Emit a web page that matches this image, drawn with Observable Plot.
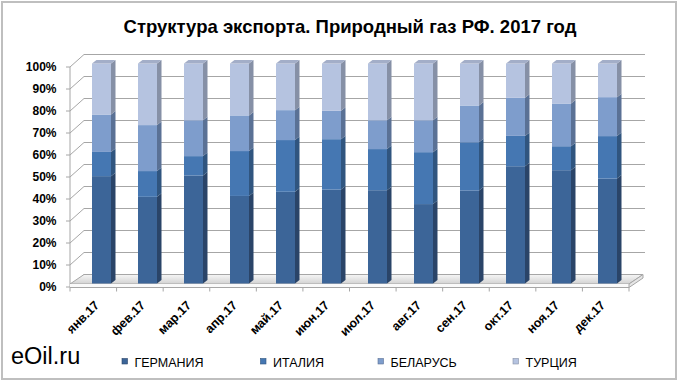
<!DOCTYPE html>
<html><head><meta charset="utf-8">
<script src="https://cdn.jsdelivr.net/npm/d3@7"></script>
<script src="https://cdn.jsdelivr.net/npm/@observablehq/plot@0.6"></script>
<style>
body{margin:0;background:#fff}
#wrap{position:relative;width:680px;height:384px;overflow:hidden;background:#fff}
#wrap svg{position:absolute;left:0;top:0}
</style>
</head><body><div id="wrap"></div>
<script>
const months = ["янв.17","фев.17","мар.17","апр.17","май.17","июн.17","июл.17","авг.17","сен.17","окт.17","ноя.17","дек.17"];
const series = ["ГЕРМАНИЯ","ИТАЛИЯ","БЕЛАРУСЬ","ТУРЦИЯ"];
const germany = [48.8, 39.4, 49.1, 39.8, 41.7, 42.7, 42.4, 36.1, 42.3, 53.3, 51.5, 47.7];
const italy   = [11.0, 11.7,  8.8, 20.4, 23.5, 22.9, 18.7, 23.6, 21.9, 13.8, 10.9, 19.3];
const belarus = [17.0, 20.9, 16.3, 16.2, 13.6, 12.9, 13.1, 14.5, 16.7, 17.3, 19.4, 17.7];
const turkey  = [23.2, 28.0, 25.8, 23.6, 21.2, 21.5, 25.8, 25.8, 19.1, 15.6, 18.2, 15.3];
const yTicks = [0,10,20,30,40,50,60,70,80,90,100];
const title = "Структура экспорта. Природный газ РФ. 2017 год";
const watermark = "eOil.ru";

const frontColors = ["#3C6598","#4577B2","#7E9DCC","#B5C3E0"];
const sideColors  = ["#2A4468","#30557F","#5A7195","#8690A6"];
const topColor = "#A3AEC8";

const seriesValues = [germany, italy, belarus, turkey];
const data = [];
months.forEach((m, i) => seriesValues.forEach((arr, s) => data.push({month: m, series: series[s], value: arr[i]})));

const FONT = "'Liberation Sans', Arial, sans-serif";
const FX = -5, FY = 3.5;   // front plane offset from bar plane
const BX = 9,  BY = -9;    // back plane offset from bar plane
const DX = 4.5, DY = -3.5; // bar depth

function walls(index, scales, values, dims) {
  const g = d3.create("svg:g");
  const y = scales.y;
  const x0 = dims.marginLeft, x1 = dims.width - dims.marginRight;
  const fl = x0 + FX, fr = x1 + FX, bl = x0 + BX, br = x1 + BX;
  const grid = "#A6A6A6";
  for (const t of yTicks) {
    const yf = y(t) + FY, yb = y(t) + BY;
    if (t > 0) g.append("line").attr("x1", bl).attr("x2", br + 2).attr("y1", yb).attr("y2", yb).attr("stroke", grid);
    g.append("line").attr("x1", fl).attr("y1", yf).attr("x2", bl).attr("y2", yb).attr("stroke", grid);
    g.append("line").attr("x1", fl - 4).attr("x2", fl).attr("y1", yf).attr("y2", yf).attr("stroke", grid);
  }
  g.append("line").attr("x1", fl).attr("x2", fl).attr("y1", y(100) + FY).attr("y2", y(0) + FY + 0.5).attr("stroke", grid);
  const defs = g.append("defs");
  const lg = defs.append("linearGradient").attr("id", "floorGrad").attr("x1", 0).attr("y1", 0).attr("x2", 0).attr("y2", 1);
  lg.append("stop").attr("offset", 0).attr("stop-color", "#F6F6F6");
  lg.append("stop").attr("offset", 1).attr("stop-color", "#D2D2D2");
  const yTopF = y(0) + 0.5, yBack = y(0) + BY, yAx = y(0) + FY + 0.5;
  g.append("polygon").attr("points", [[fl, yTopF], [fr, yTopF], [br, yBack], [bl, yBack]].join(" "))
    .attr("fill", "url(#floorGrad)").attr("stroke", grid);
  g.append("polygon").attr("points", [[fl, yTopF], [fr, yTopF], [fr, yAx], [fl, yAx]].join(" "))
    .attr("fill", "#FAFAFA").attr("stroke", "none");
  g.append("polygon").attr("points", [[fr, yTopF], [br, yBack], [br, yBack + 3.5], [fr, yAx]].join(" "))
    .attr("fill", "#E6E6E6").attr("stroke", grid);
  g.append("line").attr("x1", fl).attr("x2", fr).attr("y1", yAx).attr("y2", yAx).attr("stroke", grid);
  const step = (fr - fl) / months.length;
  for (let k = 0; k <= months.length; k++) {
    const xt = fl + k * step;
    g.append("line").attr("x1", xt).attr("x2", xt).attr("y1", yAx).attr("y2", yAx + 4).attr("stroke", grid);
  }
  return g.node();
}

function bar3d(index, scales, values, dimensions, context, next) {
  const g = next(index, scales, values, dimensions, context);
  const bw = scales.x.bandwidth();
  const extra = d3.create("svg:g");
  for (const i of index) {
    const xl = values.x[i], xr = xl + bw;
    const yt = Math.min(values.y1[i], values.y2[i]), yb = Math.max(values.y1[i], values.y2[i]);
    const s = series.indexOf(data[i].series);
    extra.append("polygon")
      .attr("points", [[xr, yb], [xr, yt], [xr + DX, yt + DY], [xr + DX, yb + DY]].join(" "))
      .attr("fill", sideColors[s]);
    if (s === series.length - 1) {
      extra.append("polygon")
        .attr("points", [[xl, yt], [xl + DX, yt + DY], [xr + DX, yt + DY], [xr, yt]].join(" "))
        .attr("fill", topColor);
    }
  }
  g.appendChild(extra.node());
  return g;
}

const chart = Plot.plot({
  width: 680, height: 384,
  marginLeft: 75, marginRight: 46, marginTop: 63.5, marginBottom: 100.5,
  x: {domain: months, paddingInner: 0.59, paddingOuter: 0.295, axis: null},
  y: {domain: [0, 100], axis: null},
  color: {domain: series, range: frontColors},
  style: {background: "transparent", fontFamily: FONT, overflow: "visible"},
  marks: [
    walls,
    Plot.barY(data, Plot.stackY({x: "month", y: "value", fill: "series", render: bar3d})),
    Plot.text(yTicks, {y: d => d, text: d => d + "%", frameAnchor: "left", dx: FX - 14, dy: FY,
      textAnchor: "end", fontWeight: "bold", fontSize: 12, fill: "#000"}),
    Plot.text(months, {x: d => d, text: d => d, frameAnchor: "bottom", rotate: -45, textAnchor: "end",
      lineAnchor: "bottom", dx: -2, dy: 22, fontWeight: "bold", fontSize: 12.5, fill: "#000"})
  ]
});

const wrap = document.getElementById("wrap");
wrap.appendChild(chart);

const ov = d3.create("svg").attr("width", 680).attr("height", 384).style("font-family", FONT);
ov.append("rect").attr("x", 2).attr("y", 2).attr("width", 674).attr("height", 377)
  .attr("fill", "none").attr("stroke", "#BFBFBF").attr("stroke-width", 2);
ov.append("text").attr("x", 350).attr("y", 33).attr("text-anchor", "middle")
  .attr("font-size", 18.5).attr("font-weight", "bold").attr("fill", "#000").text(title);
ov.append("text").attr("x", 11).attr("y", 363.5).attr("font-size", 23.5).attr("fill", "#000").text(watermark);
const legX = [122, 260.5, 378, 513];
series.forEach((s, k) => {
  ov.append("rect").attr("x", legX[k]).attr("y", 358.5).attr("width", 5.5).attr("height", 5.5)
    .attr("fill", frontColors[k]).attr("stroke", sideColors[k]).attr("stroke-width", 0.6);
  ov.append("text").attr("x", legX[k] + 12.5).attr("y", 366.5).attr("font-size", 12.5).attr("fill", "#000").text(s);
});
wrap.appendChild(ov.node());
</script>
</body></html>
